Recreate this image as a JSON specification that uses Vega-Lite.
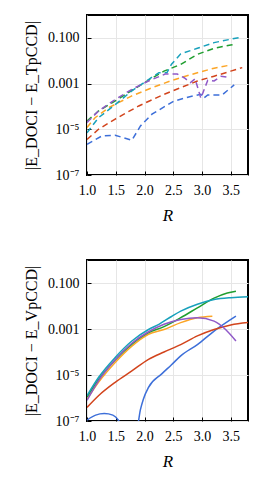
{
  "$schema": "https://vega.github.io/schema/vega-lite/v6.json",
  "autosize": {"type": "pad"},
  "padding": {"left": 22, "top": 14, "right": 5, "bottom": 5},
  "spacing": 85,
  "bounds": "flush",
  "config": {
    "font": "Liberation Serif",
    "view": {"stroke": "black", "strokeWidth": 2},
    "axis": {
      "domain": false,
      "grid": true,
      "gridColor": "#e6e6e6",
      "gridWidth": 1,
      "tickColor": "black",
      "tickSize": -4,
      "labelFont": "Liberation Serif",
      "titleFont": "Liberation Serif",
      "labelFontSize": 14,
      "labelColor": "black",
      "labelFlush": false,
      "titleFontSize": 16,
      "titleFontWeight": "normal",
      "titleColor": "black"
    }
  },
  "datasets": {
    "top": [
      {"R": 1.0, "v": 2.2e-6, "s": "a"}, {"R": 1.26, "v": 5.1e-6, "s": "a"}, {"R": 1.49, "v": 5.5e-6, "s": "a"}, {"R": 1.78, "v": 3.3e-6, "s": "a"}, {"R": 1.93, "v": 1.4e-5, "s": "a"}, {"R": 2.13, "v": 4.6e-5, "s": "a"}, {"R": 2.34, "v": 9.5e-5, "s": "a"}, {"R": 2.51, "v": 1.7e-4, "s": "a"}, {"R": 2.77, "v": 2.6e-4, "s": "a"}, {"R": 2.98, "v": 3.4e-4, "s": "a"}, {"R": 3.03, "v": 2.3e-4, "s": "a"}, {"R": 3.1, "v": 3.2e-4, "s": "a"}, {"R": 3.35, "v": 3.2e-4, "s": "a"}, {"R": 3.56, "v": 8.7e-4, "s": "a"},
      {"R": 1.0, "v": 3.6e-6, "s": "b"}, {"R": 1.2, "v": 1.0e-5, "s": "b"}, {"R": 1.49, "v": 2.8e-5, "s": "b"}, {"R": 1.9, "v": 1.05e-4, "s": "b"}, {"R": 2.34, "v": 3.4e-4, "s": "b"}, {"R": 2.63, "v": 6.6e-4, "s": "b"}, {"R": 2.92, "v": 1.3e-3, "s": "b"}, {"R": 3.21, "v": 2.1e-3, "s": "b"}, {"R": 3.5, "v": 3.5e-3, "s": "b"}, {"R": 3.7, "v": 5.0e-3, "s": "b"},
      {"R": 1.0, "v": 1.2e-5, "s": "c"}, {"R": 1.14, "v": 3.2e-5, "s": "c"}, {"R": 1.38, "v": 8.9e-5, "s": "c"}, {"R": 1.78, "v": 2.9e-4, "s": "c"}, {"R": 2.13, "v": 6.6e-4, "s": "c"}, {"R": 2.45, "v": 1.3e-3, "s": "c"}, {"R": 2.63, "v": 1.8e-3, "s": "c"}, {"R": 2.92, "v": 3.0e-3, "s": "c"}, {"R": 3.21, "v": 4.7e-3, "s": "c"}, {"R": 3.47, "v": 6.3e-3, "s": "c"},
      {"R": 1.0, "v": 2.3e-5, "s": "d"}, {"R": 1.2, "v": 6.3e-5, "s": "d"}, {"R": 1.5, "v": 1.8e-4, "s": "d"}, {"R": 1.78, "v": 5.0e-4, "s": "d"}, {"R": 2.07, "v": 1.4e-3, "s": "d"}, {"R": 2.34, "v": 3.5e-3, "s": "d"}, {"R": 2.63, "v": 6.9e-3, "s": "d"}, {"R": 2.92, "v": 1.9e-2, "s": "d"}, {"R": 3.21, "v": 3.5e-2, "s": "d"}, {"R": 3.5, "v": 4.9e-2, "s": "d"}, {"R": 3.6, "v": 5.2e-2, "s": "d"},
      {"R": 1.0, "v": 7.1e-6, "s": "e"}, {"R": 1.2, "v": 3.2e-5, "s": "e"}, {"R": 1.49, "v": 1.2e-4, "s": "e"}, {"R": 1.78, "v": 4.8e-4, "s": "e"}, {"R": 2.07, "v": 1.5e-3, "s": "e"}, {"R": 2.25, "v": 3.0e-3, "s": "e"}, {"R": 2.39, "v": 3.0e-3, "s": "e"}, {"R": 2.47, "v": 7.0e-3, "s": "e"}, {"R": 2.63, "v": 2.0e-2, "s": "e"}, {"R": 2.92, "v": 3.5e-2, "s": "e"}, {"R": 3.21, "v": 6.2e-2, "s": "e"}, {"R": 3.5, "v": 8.7e-2, "s": "e"}, {"R": 3.7, "v": 0.11, "s": "e"},
      {"R": 1.0, "v": 2.0e-5, "s": "f"}, {"R": 1.2, "v": 6.3e-5, "s": "f"}, {"R": 1.49, "v": 2.0e-4, "s": "f"}, {"R": 1.78, "v": 5.6e-4, "s": "f"}, {"R": 2.07, "v": 1.3e-3, "s": "f"}, {"R": 2.36, "v": 2.6e-3, "s": "f"}, {"R": 2.57, "v": 2.6e-3, "s": "f"}, {"R": 2.69, "v": 1.8e-3, "s": "f"}, {"R": 2.8, "v": 1.1e-3, "s": "f"}, {"R": 2.88, "v": 1.6e-3, "s": "f"}, {"R": 2.98, "v": 2.3e-4, "s": "f"}, {"R": 3.1, "v": 1.4e-3, "s": "f"}, {"R": 3.21, "v": 1.3e-3, "s": "f"}, {"R": 3.33, "v": 2.1e-3, "s": "f"}, {"R": 3.44, "v": 1.9e-3, "s": "f"}
    ],
    "bottom": [
      {"R": 1.0, "v": 1.1e-7, "s": "a"}, {"R": 1.15, "v": 1.8e-7, "s": "a"}, {"R": 1.3, "v": 2.1e-7, "s": "a"}, {"R": 1.45, "v": 1.8e-7, "s": "a"}, {"R": 1.55, "v": 1.05e-7, "s": "a"}, {"R": 1.62, "v": 5e-8, "s": "a"}, {"R": 1.75, "v": 2.5e-8, "s": "a"}, {"R": 1.87, "v": 5e-8, "s": "a"}, {"R": 1.93, "v": 3.2e-7, "s": "a"}, {"R": 1.98, "v": 8.9e-7, "s": "a"}, {"R": 2.07, "v": 2.9e-6, "s": "a"}, {"R": 2.3, "v": 1.12e-5, "s": "a"}, {"R": 2.47, "v": 2.8e-5, "s": "a"}, {"R": 2.63, "v": 6.8e-5, "s": "a"}, {"R": 2.92, "v": 2.1e-4, "s": "a"}, {"R": 3.21, "v": 8.1e-4, "s": "a"}, {"R": 3.59, "v": 3.6e-3, "s": "a"},
      {"R": 1.0, "v": 3.9e-7, "s": "b"}, {"R": 1.2, "v": 1.26e-6, "s": "b"}, {"R": 1.49, "v": 4.8e-6, "s": "b"}, {"R": 1.78, "v": 1.5e-5, "s": "b"}, {"R": 2.07, "v": 4.8e-5, "s": "b"}, {"R": 2.34, "v": 1.0e-4, "s": "b"}, {"R": 2.63, "v": 2.1e-4, "s": "b"}, {"R": 2.92, "v": 5.0e-4, "s": "b"}, {"R": 3.21, "v": 9.5e-4, "s": "b"}, {"R": 3.5, "v": 1.5e-3, "s": "b"}, {"R": 3.8, "v": 1.9e-3, "s": "b"},
      {"R": 1.0, "v": 8.9e-7, "s": "c"}, {"R": 1.2, "v": 4.8e-6, "s": "c"}, {"R": 1.49, "v": 3.5e-5, "s": "c"}, {"R": 1.78, "v": 1.8e-4, "s": "c"}, {"R": 2.07, "v": 5.9e-4, "s": "c"}, {"R": 2.34, "v": 9.5e-4, "s": "c"}, {"R": 2.63, "v": 1.9e-3, "s": "c"}, {"R": 2.92, "v": 3.1e-3, "s": "c"}, {"R": 3.18, "v": 3.6e-3, "s": "c"},
      {"R": 1.0, "v": 1.1e-6, "s": "d"}, {"R": 1.2, "v": 6.3e-6, "s": "d"}, {"R": 1.49, "v": 4.5e-5, "s": "d"}, {"R": 1.78, "v": 2.2e-4, "s": "d"}, {"R": 2.07, "v": 6.9e-4, "s": "d"}, {"R": 2.34, "v": 1.26e-3, "s": "d"}, {"R": 2.63, "v": 3.1e-3, "s": "d"}, {"R": 2.92, "v": 8.3e-3, "s": "d"}, {"R": 3.21, "v": 2.2e-2, "s": "d"}, {"R": 3.44, "v": 3.7e-2, "s": "d"}, {"R": 3.59, "v": 4.4e-2, "s": "d"},
      {"R": 1.0, "v": 1.26e-6, "s": "e"}, {"R": 1.2, "v": 7.8e-6, "s": "e"}, {"R": 1.49, "v": 5.8e-5, "s": "e"}, {"R": 1.78, "v": 3.0e-4, "s": "e"}, {"R": 2.07, "v": 9.5e-4, "s": "e"}, {"R": 2.25, "v": 1.6e-3, "s": "e"}, {"R": 2.47, "v": 3.5e-3, "s": "e"}, {"R": 2.63, "v": 6.0e-3, "s": "e"}, {"R": 2.92, "v": 1.2e-2, "s": "e"}, {"R": 3.21, "v": 1.9e-2, "s": "e"}, {"R": 3.5, "v": 2.3e-2, "s": "e"}, {"R": 3.8, "v": 2.5e-2, "s": "e"},
      {"R": 1.0, "v": 7.9e-7, "s": "f"}, {"R": 1.2, "v": 5.6e-6, "s": "f"}, {"R": 1.49, "v": 4.6e-5, "s": "f"}, {"R": 1.78, "v": 2.4e-4, "s": "f"}, {"R": 2.07, "v": 7.6e-4, "s": "f"}, {"R": 2.34, "v": 1.6e-3, "s": "f"}, {"R": 2.63, "v": 2.6e-3, "s": "f"}, {"R": 2.92, "v": 3.1e-3, "s": "f"}, {"R": 3.21, "v": 2.2e-3, "s": "f"}, {"R": 3.41, "v": 9.5e-4, "s": "f"}, {"R": 3.59, "v": 3.0e-4, "s": "f"}
    ]
  },
  "vconcat": [
    {
      "width": 161,
      "height": 160,
      "data": {"name": "top"},
      "mark": {"type": "line", "clip": true, "strokeWidth": 1.5, "strokeDash": [6, 4]},
      "encoding": {
        "x": {"field": "R", "type": "quantitative", "scale": {"domain": [1, 3.8], "nice": false, "zero": false},
              "axis": {"values": [1, 1.5, 2, 2.5, 3, 3.5], "format": ".1f", "title": "R", "titleFontStyle": "italic", "titleFontSize": 17, "titlePadding": 10, "labelPadding": 12}},
        "y": {"field": "v", "type": "quantitative", "scale": {"type": "log", "domain": [1e-7, 1], "nice": false},
              "axis": {"values": [1e-7, 1e-5, 0.001, 0.1], "labelExpr": "datum.value > 0.05 ? '0.100' : datum.value > 0.0005 ? '0.001' : datum.value > 5e-6 ? '10⁻⁵' : '10⁻⁷'", "title": "|E_DOCI − E_TpCCD|", "titlePadding": 8, "labelPadding": 12}},
        "color": {"field": "s", "type": "nominal", "legend": null,
                  "scale": {"domain": ["a", "b", "c", "d", "e", "f"], "range": ["#3d6fd9", "#d2441c", "#fca526", "#1f9e2f", "#17a0bb", "#9059c8"]}},
        "order": {"field": "R", "type": "quantitative"}
      }
    },
    {
      "width": 161,
      "height": 161,
      "data": {"name": "bottom"},
      "mark": {"type": "line", "clip": true, "strokeWidth": 1.5, "interpolate": "monotone"},
      "encoding": {
        "x": {"field": "R", "type": "quantitative", "scale": {"domain": [1, 3.8], "nice": false, "zero": false},
              "axis": {"values": [1, 1.5, 2, 2.5, 3, 3.5], "format": ".1f", "title": "R", "titleFontStyle": "italic", "titleFontSize": 17, "titlePadding": 10, "labelPadding": 12}},
        "y": {"field": "v", "type": "quantitative", "scale": {"type": "log", "domain": [1e-7, 1], "nice": false},
              "axis": {"values": [1e-7, 1e-5, 0.001, 0.1], "labelExpr": "datum.value > 0.05 ? '0.100' : datum.value > 0.0005 ? '0.001' : datum.value > 5e-6 ? '10⁻⁵' : '10⁻⁷'", "title": "|E_DOCI − E_VpCCD|", "titlePadding": 8, "labelPadding": 12}},
        "color": {"field": "s", "type": "nominal", "legend": null,
                  "scale": {"domain": ["a", "b", "c", "d", "e", "f"], "range": ["#3d6fd9", "#d2441c", "#fca526", "#1f9e2f", "#17a0bb", "#9059c8"]}},
        "order": {"field": "R", "type": "quantitative"}
      }
    }
  ]
}
